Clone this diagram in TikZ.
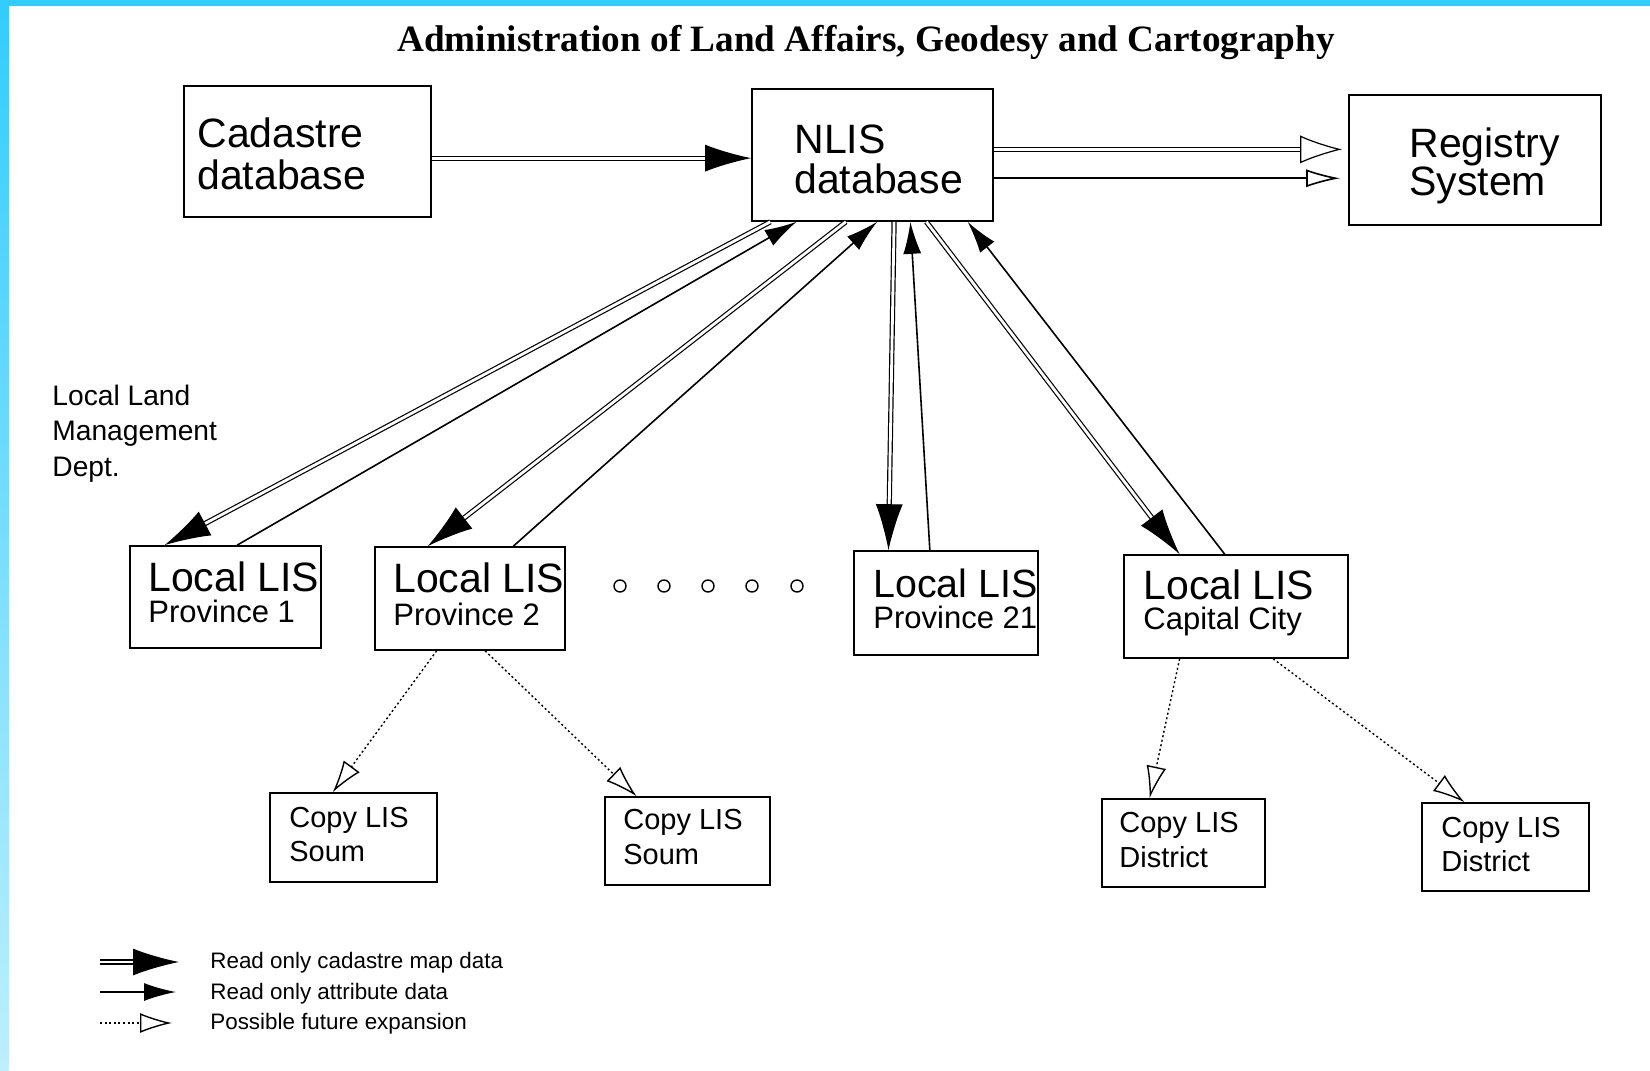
\documentclass[tikz,border=0pt]{standalone}
\usepackage{fontspec}
\setmainfont{Liberation Sans}
\newfontfamily\titlefont{Liberation Serif}
\usetikzlibrary{arrows.meta,calc}

\definecolor{framecyan}{HTML}{33CCFF}
\definecolor{framelight}{HTML}{BDEFFF}

\tikzset{
  box/.style={draw, line width=0.8pt, inner sep=0pt},
  txt/.style={inner sep=0pt, anchor=base west},
  bigtxt/.style={txt, font=\fontsize{20.5}{20.5}\selectfont},
  subtxt/.style={txt, font=\fontsize{15.5}{15.5}\selectfont},
  smalltxt/.style={txt, font=\fontsize{14.5}{14.5}\selectfont},
  deptxt/.style={txt, font=\fontsize{14.1}{14.1}\selectfont},
  legtxt/.style={txt, font=\fontsize{11.2}{11.2}\selectfont},
  mapdata/.style={double, double distance=1.4pt, line width=0.6pt,
    -{Latex[length=23pt,width=13.5pt]}},
  attrdata/.style={line width=0.8pt, -{Latex[length=16pt,width=9pt]}},
  future/.style={line width=0.7pt, dash pattern=on 1pt off 1.3pt,
    -{Latex[open,length=16pt,width=10pt]}},
  futuredouble/.style={double, double distance=1.6pt, line width=0.6pt,
    -{Latex[open,length=21pt,width=14pt]}},
  futuresingle/.style={line width=0.8pt, -{Latex[open,length=17pt,width=9pt]}},
  dotnode/.style={circle, draw, line width=0.7pt, minimum size=6pt, inner sep=0pt},
}

\begin{document}
\begin{tikzpicture}[x=0.5pt,y=-0.5pt]
\useasboundingbox (0,0) rectangle (1650,1071);
\fill[white] (0,0) rectangle (1650,1071);
% frame
\fill[framecyan] (0,0) rectangle (1650,6);
\shade[top color=framecyan, bottom color=framelight] (0,0) rectangle (8.5,1071);

% title
\node[inner sep=0pt, anchor=base, font=\titlefont\bfseries\fontsize{18.6}{18.6}\selectfont] (title) at (866,51)
  {Administration of Land Affairs, Geodesy and Cartography};

% boxes
\node[box, minimum width=123.5pt, minimum height=65.5pt] (cad) at (307.5,151.5) {};
\node[box, minimum width=120.5pt, minimum height=66pt] (nlis) at (872.5,155) {};
\node[box, minimum width=126pt, minimum height=65pt] (reg) at (1475,160) {};

\node[box, minimum width=95.5pt, minimum height=51pt] (p1) at (225.5,597) {};
\node[box, minimum width=95pt, minimum height=51.5pt] (p2) at (470,598.5) {};
\node[box, minimum width=92pt, minimum height=52pt] (p21) at (946,603) {};
\node[box, minimum width=112pt, minimum height=51.5pt] (cap) at (1236,606.5) {};

\node[box, minimum width=83.5pt, minimum height=44.5pt] (s1) at (353.5,837.5) {};
\node[box, minimum width=82.5pt, minimum height=44pt] (s2) at (687.5,841) {};
\node[box, minimum width=81.5pt, minimum height=44pt] (d1) at (1183.5,843) {};
\node[box, minimum width=83.5pt, minimum height=44pt] (d2) at (1505.5,847) {};

% box texts
\node[bigtxt] (cadt1) at (197,147) {Cadastre};
\node[bigtxt] (cadt2) at (197,189) {database};
\node[bigtxt] (nlist1) at (794,153) {NLIS};
\node[bigtxt] (nlist2) at (794,193) {database};
\node[bigtxt] (regt1) at (1409,157) {Registry};
\node[bigtxt] (regt2) at (1409,195) {System};

\node[bigtxt] (p1t1) at (148,591) {Local LIS};
\node[subtxt] (p1t2) at (148,622) {Province 1};
\node[bigtxt] (p2t1) at (393,592) {Local LIS};
\node[subtxt] (p2t2) at (393,625) {Province 2};
\node[bigtxt, font=\fontsize{19.7}{19.7}\selectfont] (p21t1) at (873,597) {Local LIS};
\node[subtxt] (p21t2) at (873,628) {Province 21};
\node[bigtxt] (capt1) at (1143,599) {Local LIS};
\node[subtxt] (capt2) at (1143,629) {Capital City};

\node[smalltxt] (s1t1) at (289,827) {Copy LIS};
\node[smalltxt] (s1t2) at (289,861) {Soum};
\node[smalltxt] (s2t1) at (623,829) {Copy LIS};
\node[smalltxt] (s2t2) at (623,864) {Soum};
\node[smalltxt] (d1t1) at (1119,832) {Copy LIS};
\node[smalltxt] (d1t2) at (1119,867) {District};
\node[smalltxt] (d2t1) at (1441,837) {Copy LIS};
\node[smalltxt] (d2t2) at (1441,871) {District};

\node[deptxt] (dep1) at (52,405) {Local Land};
\node[deptxt] (dep2) at (52,440) {Management};
\node[deptxt] (dep3) at (52,476) {Dept.};

% dots
\node[dotnode] (dot1) at (620,586) {};
\node[dotnode] (dot2) at (664,586) {};
\node[dotnode] (dot3) at (708,586) {};
\node[dotnode] (dot4) at (752,586) {};
\node[dotnode] (dot5) at (797,586) {};

% Cadastre -> NLIS
\path ($(cad.north east)!0.55!(cad.south east)$) coordinate (ca);
\draw[mapdata] (ca) -- (ca -| nlis.west);

% NLIS -> Registry
\path ($(nlis.north east)!0.458!(nlis.south east)$) coordinate (ra);
\path ($(nlis.north east)!0.674!(nlis.south east)$) coordinate (rb);
\draw[futuredouble, shorten >=3pt] (ra) -- (ra -| reg.west);
\draw[futuresingle, shorten >=4pt] (rb) -- (rb -| reg.west);

% NLIS <-> provinces
\draw[mapdata] ($(nlis.south west)!0.079!(nlis.south east)$) -- ($(p1.north west)!0.183!(p1.north east)$);
\draw[attrdata] ($(p1.north west)!0.56!(p1.north east)$) -- ($(nlis.south west)!0.187!(nlis.south east)$);
\draw[mapdata] ($(nlis.south west)!0.39!(nlis.south east)$) -- ($(p2.north west)!0.279!(p2.north east)$);
\draw[attrdata] ($(p2.north west)!0.726!(p2.north east)$) -- ($(nlis.south west)!0.519!(nlis.south east)$);
\draw[mapdata] ($(nlis.south west)!0.589!(nlis.south east)$) -- ($(p21.north west)!0.19!(p21.north east)$);
\draw[attrdata] ($(p21.north west)!0.413!(p21.north east)$) -- ($(nlis.south west)!0.656!(nlis.south east)$);
\draw[mapdata] ($(nlis.south west)!0.722!(nlis.south east)$) -- ($(cap.north west)!0.25!(cap.north east)$);
\draw[attrdata] ($(cap.north west)!0.45!(cap.north east)$) -- ($(nlis.south west)!0.892!(nlis.south east)$);

% future expansion
\draw[future] ($(p2.south west)!0.326!(p2.south east)$) -- ($(s1.north west)!0.377!(s1.north east)$);
\draw[future] ($(p2.south west)!0.579!(p2.south east)$) -- ($(s2.north west)!0.194!(s2.north east)$);
\draw[future] ($(cap.south west)!0.25!(cap.south east)$) -- ($(d1.north west)!0.294!(d1.north east)$);
\draw[future] ($(cap.south west)!0.665!(cap.south east)$) -- ($(d2.north west)!0.257!(d2.north east)$);

% legend
\coordinate (l1a) at (100,962); \coordinate (l1b) at (179,962);
\coordinate (l2a) at (100,992); \coordinate (l2b) at (176,992);
\coordinate (l3a) at (100,1023); \coordinate (l3b) at (172,1023);
\draw[mapdata] (l1a) -- (l1b);
\draw[attrdata] (l2a) -- (l2b);
\draw[future] (l3a) -- (l3b);
\node[legtxt] (leg1) at (210,968) {Read only cadastre map data};
\node[legtxt] (leg2) at (210,999) {Read only attribute data};
\node[legtxt] (leg3) at (210,1029) {Possible future expansion};
\end{tikzpicture}
\end{document}
